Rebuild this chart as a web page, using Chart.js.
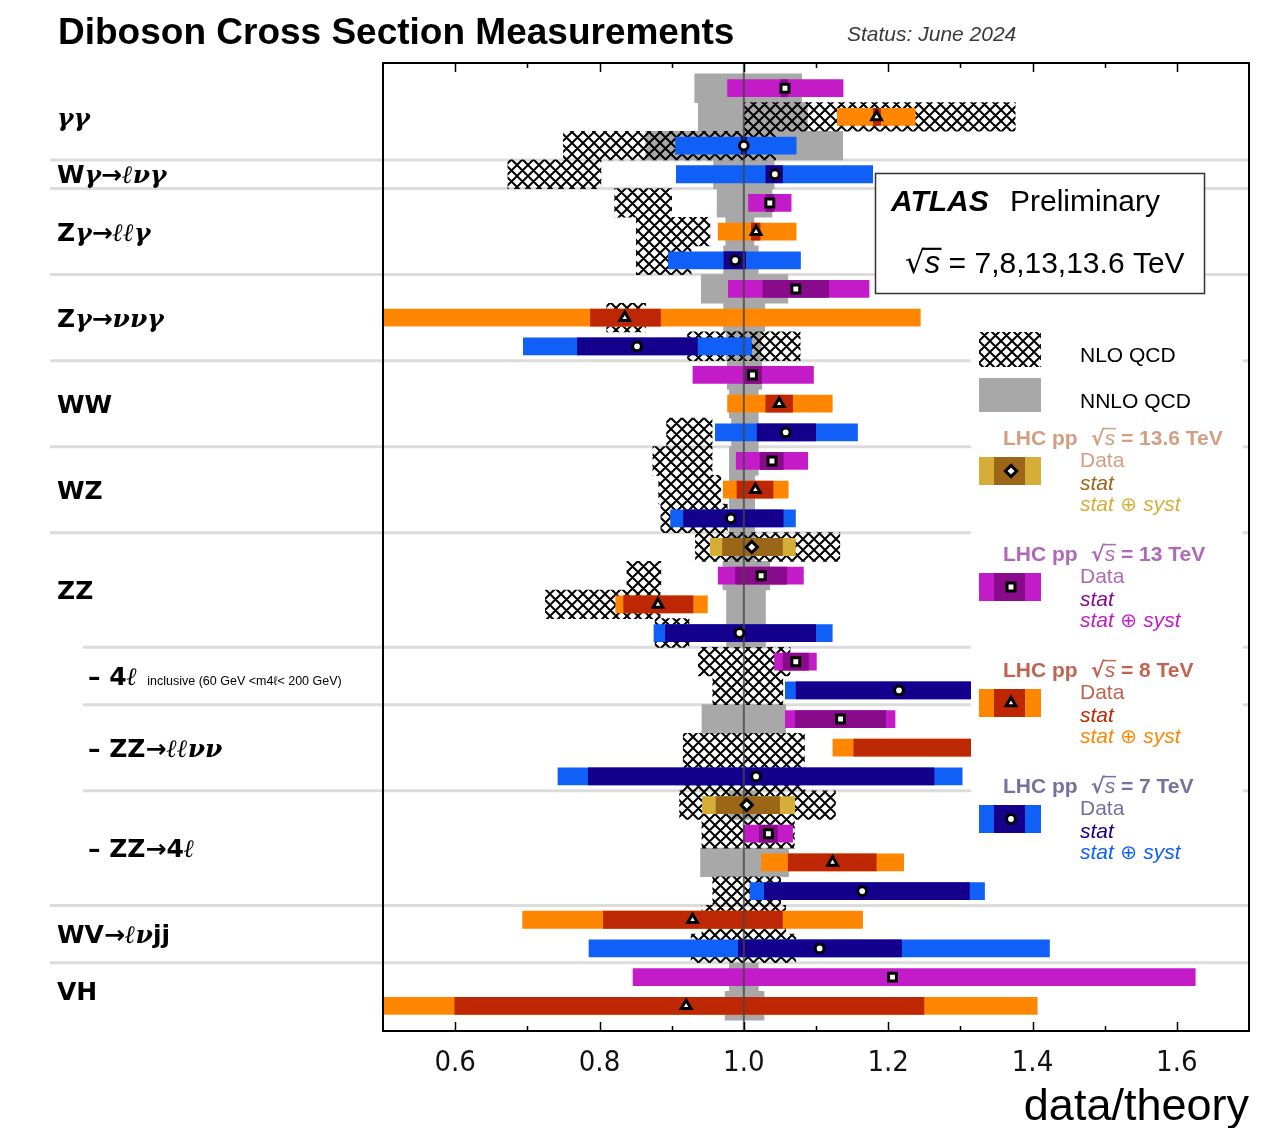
<!DOCTYPE html>
<html>
<head>
<meta charset="utf-8">
<title>Diboson Cross Section Measurements</title>
<script src="https://cdn.jsdelivr.net/npm/chart.js@4.4.1/dist/chart.umd.min.js"></script>
<style>
  html, body { margin: 0; padding: 0; background: #fff; }
  canvas { display: block; }
</style>
</head>
<body>
<canvas id="chart" width="1276" height="1128"></canvas>
<script>
// Measurements, one entry per row from top to bottom
const rowEnergy = ['13', '8', '7', '7', '13', '8', '7', '13', '8', '7', '13', '8', '7', '13', '8', '7',
  '13.6', '13', '8', '7', '13', '7', '13', '8', '7', '13.6', '13', '8', '7', '8', '7', '13', '8'];
const central = [1.057, 1.184, 1.0, 1.043, 1.036, 1.017, 0.988, 1.072, 0.835, 0.852, 1.012, 1.049, 1.058,
  1.039, 1.016, 0.982, 1.011, 1.024, 0.881, 0.994, 1.072, 1.215, 1.134, null, 1.017,
  1.004, 1.034, 1.123, 1.164, 0.929, 1.105, 1.206, 0.92];
const statLow = [1.051, 1.179, 0.996, 1.03, 1.03, 1.01, 0.972, 1.026, 0.787, 0.769, 1.0, 1.03, 1.018,
  1.022, 0.99, 0.916, 0.97, 0.988, 0.833, 0.891, 1.054, 1.072, 1.071, 1.152, 0.784,
  0.961, 1.021, 1.061, 1.028, 0.805, 0.992, null, 0.599];
const statHigh = [1.061, 1.19, 1.004, 1.054, 1.042, 1.023, 1.003, 1.118, 0.885, 0.936, 1.025, 1.068, 1.1,
  1.055, 1.041, 1.055, 1.054, 1.06, 0.93, 1.1, 1.09, 1.36, 1.197, 1.36, 1.264,
  1.05, 1.047, 1.184, 1.313, 1.054, 1.219, null, 1.25];
const totalLow = [0.977, 1.129, 0.905, 0.906, 1.006, 0.964, 0.895, 0.978, 0.5, 0.694, 0.929, 0.977, 0.96,
  0.989, 0.971, 0.898, 0.953, 0.964, 0.822, 0.875, 1.042, 1.057, 1.057, 1.123, 0.742,
  0.942, 0.999, 1.024, 1.008, 0.693, 0.785, 0.846, 0.5];
const totalHigh = [1.138, 1.238, 1.073, 1.179, 1.066, 1.073, 1.079, 1.174, 1.245, 1.011, 1.097, 1.123, 1.158,
  1.089, 1.062, 1.072, 1.072, 1.083, 0.95, 1.123, 1.101, 1.38, 1.21, 1.38, 1.303,
  1.071, 1.068, 1.222, 1.334, 1.165, 1.424, 1.626, 1.407];

// Theory uncertainty bands (NLO hatched, NNLO grey)
const nloLow = [null, 1.0, 0.75, 0.673, 0.821, 0.851, 0.851, null, 0.81, 0.922, null, null, 0.893,
  0.874, 0.882, 0.885, 0.933, 0.838, 0.725, 0.877, 0.937, 0.957, null, 0.916, 0.914,
  0.911, 0.942, null, 0.957, 0.942, 0.927, null, null];
const nloHigh = [null, 1.376, 1.044, 0.802, 0.9, 0.953, 0.927, null, 0.864, 1.078, null, null, 0.956,
  0.956, 0.968, 0.977, 1.133, 0.885, 0.884, 0.924, 1.064, 1.054, null, 1.084, 1.084,
  1.127, 1.07, null, 1.051, 1.058, 1.072, null, null];
const nnloLow = [0.932, 0.937, 0.864, 0.958, 0.963, 0.975, 0.972, 0.941, 0.972, 0.976, 0.977, 0.98, 0.983,
  0.98, 0.98, 0.98, 0.98, 0.971, 0.976, 0.976, null, null, 0.942, null, null,
  0.98, null, 0.94, null, null, null, 0.98, 0.974];
const nnloHigh = [1.08, 1.088, 1.137, 1.042, 1.039, 1.014, 1.02, 1.061, 1.029, 1.024, 1.025, 1.02, 1.02,
  1.02, 1.015, 1.015, 1.015, 1.036, 1.03, 1.03, null, null, 1.058, null, null,
  1.02, null, 1.062, null, null, null, 1.02, 1.028];

// Processes: first/last row, indented sub-channel, label pieces ('b' bold sans, 'i' italic symbol)
const groupFirst = [0, 3, 4, 7, 10, 13, 16, 20, 22, 25, 29, 31];
const groupLast = [2, 3, 6, 9, 12, 15, 19, 21, 24, 28, 30, 32];
const groupSub = [false, false, false, false, false, false, false, true, true, true, false, false];
const groupLabels = [
  [['γγ', 'i']],
  [['W', 'b'], ['γ', 'i'], ['→', 'b'], ['ℓνγ', 'i']],
  [['Z', 'b'], ['γ', 'i'], ['→', 'b'], ['ℓℓγ', 'i']],
  [['Z', 'b'], ['γ', 'i'], ['→', 'b'], ['ννγ', 'i']],
  [['WW', 'b']],
  [['WZ', 'b']],
  [['ZZ', 'b']],
  [['– ', 'b'], ['4', 'b'], ['ℓ', 'i']],
  [['– ', 'b'], ['ZZ→', 'b'], ['ℓℓνν', 'i']],
  [['– ', 'b'], ['ZZ→4', 'b'], ['ℓ', 'i']],
  [['WV', 'b'], ['→', 'b'], ['ℓν', 'i'], ['jj', 'b']],
  [['VH', 'b']]
];
const groupNote = ['', '', '', '', '', '', '', 'inclusive (60 GeV <m4ℓ< 200 GeV)', '', '', '', ''];

const energyStyle = {
  '13.6': { syst: '#d5ae38', stat: '#9b6617', text: '#d29e84', marker: 'rectRot', radius: 5.6 },
  '13': { syst: '#c41bc8', stat: '#870b8b', text: '#ae6ab6', marker: 'rect', radius: 5.6 },
  '8': { syst: '#ff8600', stat: '#be2704', text: '#c26352', marker: 'triangle', radius: 5.6 },
  '7': { syst: '#1060f8', stat: '#14008c', text: '#7471a1', marker: 'circle', radius: 4.4 }
};
const legendOrder = ['13.6', '13', '8', '7'];

const xMin = 0.5, xMax = 1.7;
const yMin = -0.88, yMax = 32.88;
const rows = rowEnergy.map((_, i) => i);

const F_BOLD = 'bold 25px "DejaVu Sans"';
const F_SYM = 'italic bold 25px "DejaVu Serif"';
const SANS = '"Liberation Sans", Arial, "DejaVu Sans", sans-serif';

function makeHatch() {
  const s = 11;
  const c = document.createElement('canvas');
  c.width = s; c.height = s;
  const g = c.getContext('2d');
  g.strokeStyle = '#000';
  g.lineWidth = 2;
  g.beginPath();
  for (const d of [-s, 0, s]) {
    g.moveTo(d, 0); g.lineTo(d + s, s);
    g.moveTo(d + s, 0); g.lineTo(d, s);
  }
  g.stroke();
  return g.createPattern(c, 'repeat');
}
const hatch = makeHatch();

function band(lo, hi) {
  const out = [];
  lo.forEach((v, i) => { if (v !== null) out.push({ y: i, x: [v, hi[i]] }); });
  return out;
}
const styleOf = (c, key, fallback) => (c.raw ? energyStyle[rowEnergy[c.raw.y]][key] : fallback);

// one marker dataset per centre-of-mass energy
const markerSets = legendOrder.map(e => ({
  type: 'scatter', label: `Data ${e} TeV`,
  data: rows.filter(i => rowEnergy[i] === e && central[i] !== null).map(i => ({ x: central[i], y: i })),
  pointStyle: energyStyle[e].marker,
  pointRadius: energyStyle[e].radius,
  pointBackgroundColor: '#fff', pointBorderColor: '#000', pointBorderWidth: 3, order: 1
}));

// square-root-of-s symbol with its vinculum
function drawRootS(ctx, x, y, size, weight, color) {
  ctx.fillStyle = color;
  ctx.strokeStyle = color;
  ctx.font = `${weight} ${size}px "DejaVu Sans"`;
  ctx.fillText('√', x, y);
  const w1 = ctx.measureText('√').width;
  ctx.font = `italic ${size}px ${SANS}`;
  ctx.fillText('s', x + w1, y);
  const w2 = ctx.measureText('s').width;
  ctx.lineWidth = Math.max(1.2, size * 0.07);
  ctx.beginPath();
  ctx.moveTo(x + w1 - size * 0.08, y - size * 0.78);
  ctx.lineTo(x + w1 + w2 + size * 0.04, y - size * 0.78);
  ctx.stroke();
  return w1 + w2;
}

function drawPieces(ctx, x, y, pieces) {
  for (const [t, k] of pieces) {
    ctx.font = k === 'b' ? F_BOLD : F_SYM;
    ctx.fillText(t, x, y);
    x += ctx.measureText(t).width;
  }
  return x;
}

const decorations = {
  id: 'decorations',
  beforeDatasetsDraw(chart) {
    const { ctx, chartArea, scales: { y } } = chart;
    ctx.save();
    ctx.strokeStyle = '#dcdcdc';
    ctx.lineWidth = 3;
    for (let g = 1; g < groupFirst.length; g++) {
      const py = y.getPixelForValue(groupFirst[g] - 0.5);
      ctx.beginPath();
      ctx.moveTo(groupSub[g] ? 83 : 50, py);
      ctx.lineTo(chartArea.right, py);
      ctx.stroke();
    }
    ctx.restore();
  },
  afterDatasetsDraw(chart) {
    const { ctx } = chart;
    ctx.save();
    // legend panel
    ctx.fillStyle = '#fff';
    ctx.fillRect(971, 320, 272, 552);
    ctx.fillStyle = hatch;
    ctx.fillRect(979, 332, 62, 35);
    ctx.fillStyle = '#a8a8a8';
    ctx.fillRect(979, 378, 62, 34);
    ctx.fillStyle = '#000';
    ctx.font = `21px ${SANS}`;
    ctx.textBaseline = 'alphabetic';
    ctx.fillText('NLO QCD', 1080, 362);
    ctx.fillText('NNLO QCD', 1080, 408);
    legendOrder.forEach((e, k) => {
      const st = energyStyle[e];
      const top = 445 + 116 * k;
      ctx.fillStyle = st.text;
      ctx.font = `bold 21px ${SANS}`;
      ctx.fillText('LHC pp', 1003, top);
      let x = 1003 + ctx.measureText('LHC pp').width + 13;
      x += drawRootS(ctx, x, top, 21, 'bold', st.text);
      ctx.font = `bold 21px ${SANS}`;
      ctx.fillText(` = ${e} TeV`, x, top);
      ctx.fillStyle = st.syst;
      ctx.fillRect(979, top + 12, 62, 28);
      ctx.fillStyle = st.stat;
      ctx.fillRect(994, top + 12, 31, 28);
      ctx.fillStyle = '#fff';
      ctx.strokeStyle = '#000';
      ctx.lineWidth = 3;
      Chart.helpers.drawPoint(ctx, { pointStyle: st.marker, radius: st.radius, borderWidth: 3, rotation: 0 }, 1011, top + 26);
      ctx.font = `21px ${SANS}`;
      ctx.fillStyle = st.text;
      ctx.fillText('Data', 1080, top + 22);
      ctx.font = `italic 21px ${SANS}`;
      ctx.fillStyle = st.stat;
      ctx.fillText('stat', 1080, top + 45);
      ctx.fillStyle = st.syst;
      ctx.fillText('stat', 1080, top + 66);
      let sx = 1080 + ctx.measureText('stat').width;
      ctx.font = `20px "DejaVu Sans"`;
      ctx.fillText(' ⊕ ', sx, top + 66);
      sx += ctx.measureText(' ⊕ ').width;
      ctx.font = `italic 21px ${SANS}`;
      ctx.fillText('syst', sx, top + 66);
    });
    // experiment box
    ctx.fillStyle = '#fff';
    ctx.fillRect(875, 173, 329, 120);
    ctx.strokeStyle = '#333';
    ctx.lineWidth = 1.5;
    ctx.strokeRect(875.5, 173.5, 329, 120);
    ctx.fillStyle = '#000';
    ctx.font = `italic bold 30px ${SANS}`;
    ctx.fillText('ATLAS', 891, 211);
    ctx.font = `30px ${SANS}`;
    ctx.fillText('Preliminary', 1010, 211);
    const rw = drawRootS(ctx, 905, 273, 31, 'normal', '#000');
    ctx.font = `30px ${SANS}`;
    ctx.fillText(' = 7,8,13,13.6 TeV', 905 + rw, 273);
    ctx.restore();
  },
  afterDraw(chart) {
    const { ctx, chartArea, scales: { x, y } } = chart;
    ctx.save();
    // frame and inward ticks
    ctx.strokeStyle = '#000';
    ctx.lineWidth = 2;
    ctx.strokeRect(chartArea.left, chartArea.top, chartArea.right - chartArea.left, chartArea.bottom - chartArea.top);
    ctx.lineWidth = 1.5;
    x.ticks.forEach(t => {
      const tenth = Math.round(t.value * 10);
      if (tenth <= 5 || tenth >= 17) return;
      const len = tenth % 2 === 0 ? 9 : 5;
      const px = Math.round(x.getPixelForValue(t.value)) + 0.5;
      ctx.beginPath();
      ctx.moveTo(px, chartArea.bottom); ctx.lineTo(px, chartArea.bottom - len);
      ctx.moveTo(px, chartArea.top); ctx.lineTo(px, chartArea.top + len);
      ctx.stroke();
    });
    // headings
    ctx.fillStyle = '#000';
    ctx.textBaseline = 'alphabetic';
    ctx.font = `bold 37px ${SANS}`;
    ctx.fillText('Diboson Cross Section Measurements', 58, 44);
    ctx.fillStyle = '#3a3a3a';
    ctx.font = `italic 21px ${SANS}`;
    ctx.fillText('Status: June 2024', 847, 41);
    // process names
    ctx.fillStyle = '#000';
    groupLabels.forEach((pieces, g) => {
      const cy = y.getPixelForValue((groupFirst[g] + groupLast[g]) / 2);
      const end = drawPieces(ctx, groupSub[g] ? 88 : 57, cy + 9, pieces);
      if (groupNote[g]) {
        ctx.font = `12.5px ${SANS}`;
        ctx.fillText(groupNote[g], end + 10, cy + 9);
      }
    });
    ctx.restore();
  }
};

new Chart(document.getElementById('chart'), {
  type: 'bar',
  data: {
    datasets: [
      { type: 'bar', label: 'NNLO QCD', data: band(nnloLow, nnloHigh), backgroundColor: '#a8a8a8',
        grouped: false, barPercentage: 1, categoryPercentage: 1, order: 6 },
      { type: 'bar', label: 'NLO QCD', data: band(nloLow, nloHigh), backgroundColor: hatch,
        grouped: false, barPercentage: 1, categoryPercentage: 1, order: 5 },
      { type: 'bar', label: 'stat ⊕ syst', data: band(totalLow, totalHigh),
        backgroundColor: c => styleOf(c, 'syst', '#888'),
        grouped: false, barPercentage: 0.62, categoryPercentage: 1, order: 4 },
      { type: 'bar', label: 'stat', data: band(statLow, statHigh),
        backgroundColor: c => styleOf(c, 'stat', '#444'),
        grouped: false, barPercentage: 0.62, categoryPercentage: 1, order: 3 },
      { type: 'line', label: 'SM', data: [{ x: 1, y: yMin }, { x: 1, y: yMax }],
        borderColor: 'rgba(70,70,70,0.8)', borderWidth: 2, pointRadius: 0, order: 2 },
      ...markerSets
    ]
  },
  options: {
    indexAxis: 'y',
    responsive: false,
    animation: false,
    events: [],
    layout: { padding: { left: 383, right: 27, top: 63, bottom: 0 } },
    plugins: { legend: { display: false }, tooltip: { enabled: false }, title: { display: false } },
    scales: {
      x: {
        type: 'linear', min: xMin, max: xMax, offset: false,
        grid: { display: false, drawTicks: false },
        border: { display: false },
        afterFit: s => { s.height = 97; },
        ticks: {
          stepSize: 0.1, autoSkip: false, maxRotation: 0, padding: 15, color: '#111',
          font: { family: '"Liberation Sans Narrow", "DejaVu Sans Condensed", sans-serif', size: 29 },
          callback: v => {
            const t = Math.round(v * 10);
            return t % 2 === 0 && t >= 6 && t <= 16 ? (t / 10).toFixed(1) : '';
          }
        },
        title: {
          display: true, text: 'data/theory', align: 'end', color: '#000',
          font: { family: SANS, size: 45, lineHeight: 1 }, padding: { top: 0, bottom: -2 }
        }
      },
      y: {
        type: 'linear', min: yMin, max: yMax, reverse: true, offset: false, display: false,
        afterBuildTicks: s => { s.ticks = rows.map(v => ({ value: v })); }
      }
    }
  },
  plugins: [decorations]
});
</script>
</body>
</html>
